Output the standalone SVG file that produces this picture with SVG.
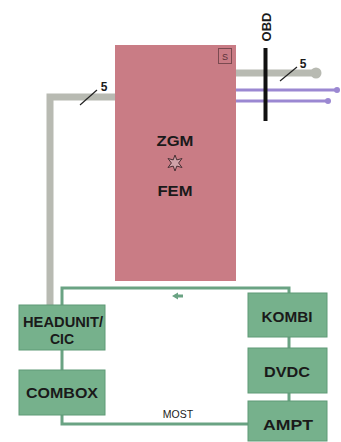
<svg xmlns="http://www.w3.org/2000/svg" width="341" height="442" viewBox="0 0 341 442">
<style>
.t{font-family:"Liberation Sans",Arial,sans-serif;font-weight:bold;fill:#1a1a1a;text-anchor:middle}
.box{fill:#76b18c;stroke:#5f9a76;stroke-width:1}
.most{fill:none;stroke:#6aa383;stroke-width:3}
.gray{fill:none;stroke:#b8bab2;stroke-width:7}
.purple{fill:none;stroke:#9b88d2;stroke-width:3}
.slash{stroke:#222;stroke-width:1.2}
</style>
<rect width="341" height="442" fill="#fff"/>
<g id="connectors">
  <path class="gray" d="M115 97 H50 V305"/>
  <path class="gray" d="M236 73 H314"/>
  <circle cx="316" cy="73" r="5.5" fill="#b8bab2"/>
  <path class="purple" d="M236 90 H336"/>
  <circle cx="337" cy="90" r="3" fill="#9b88d2"/>
  <path class="purple" d="M236 101 H326"/>
  <circle cx="328" cy="101" r="3" fill="#9b88d2"/>
  <path class="most" d="M62 305 V288 H289 V293"/>
  <path class="most" d="M62 350 V370"/>
  <path class="most" d="M62 415 V424 H248"/>
  <path class="most" d="M289 337 V348"/>
  <path class="most" d="M289 393 V401"/>
  <path d="M172 296 L178 292.5 V294.5 H183 V297.5 H178 V299.5 Z" fill="#6aa383"/>
  <line class="slash" x1="80" y1="105" x2="97" y2="90"/>
  <text class="t" x="104" y="91" font-size="12">5</text>
  <line class="slash" x1="280" y1="81" x2="297" y2="67"/>
  <text class="t" x="303" y="68" font-size="12">5</text>
  <text x="178" y="418" font-family="Liberation Sans,Arial,sans-serif" font-size="10.5" fill="#222" text-anchor="middle">MOST</text>
</g>
<g id="zgm">
  <rect x="115" y="45" width="121" height="236" fill="#c97c85"/>
  <rect x="218.5" y="48.5" width="13" height="15" fill="none" stroke="#7a4a50" stroke-width="1"/>
  <text x="225" y="60" font-family="Liberation Sans,Arial,sans-serif" font-size="9" fill="#5a3038" text-anchor="middle">S</text>
  <text class="t" x="175" y="146" font-size="14" textLength="37" lengthAdjust="spacingAndGlyphs">ZGM</text>
  <polygon points="175,155 176.8,159.9 182,158.5 178.6,163 182,167.5 176.8,166.1 175,171 173.2,166.1 168,167.5 171.4,163 168,158.5 173.2,159.9" fill="#cfa2a8" stroke="#4a3035" stroke-width="1"/>
  <text class="t" x="175" y="196" font-size="14" textLength="35" lengthAdjust="spacingAndGlyphs">FEM</text>
</g>
<g id="obd">
  <line x1="265.5" y1="48" x2="265.5" y2="121" stroke="#111" stroke-width="4"/>
  <text class="t" transform="translate(271 27) rotate(-90)" font-size="13">OBD</text>
</g>
<g id="headunit">
  <rect class="box" x="19" y="305" width="86" height="45"/>
  <text class="t" x="63" y="327" font-size="14" textLength="80" lengthAdjust="spacingAndGlyphs">HEADUNIT/</text>
  <text class="t" x="62" y="344" font-size="14">CIC</text>
</g>
<g id="combox">
  <rect class="box" x="19" y="370" width="86" height="45"/>
  <text class="t" x="62" y="398" font-size="14" textLength="72" lengthAdjust="spacingAndGlyphs">COMBOX</text>
</g>
<g id="kombi">
  <rect class="box" x="248" y="293" width="79" height="44"/>
  <text class="t" x="287" y="322" font-size="14" textLength="51" lengthAdjust="spacingAndGlyphs">KOMBI</text>
</g>
<g id="dvdc">
  <rect class="box" x="248" y="348" width="79" height="45"/>
  <text class="t" x="287" y="377" font-size="14" textLength="46" lengthAdjust="spacingAndGlyphs">DVDC</text>
</g>
<g id="ampt">
  <rect class="box" x="248" y="401" width="79" height="40"/>
  <text class="t" x="288" y="430" font-size="14" textLength="50" lengthAdjust="spacingAndGlyphs">AMPT</text>
</g>
</svg>
